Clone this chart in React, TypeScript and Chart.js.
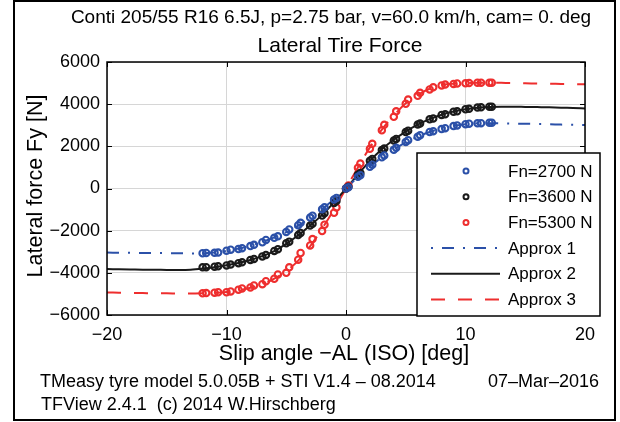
import React, { useEffect, useRef } from "react";
import { Chart, registerables } from "chart.js";
Chart.register(...registerables);

const FONT = '"Liberation Sans", Arial, Helvetica, sans-serif';

const TITLE = "Conti 205/55 R16 6.5J, p=2.75 bar, v=60.0 km/h, cam= 0. deg";
const SUBTITLE = "Lateral Tire Force";
const X_TITLE = "Slip angle \u2212AL (ISO) [deg]";
const Y_TITLE = "Lateral force Fy [N]";
const FOOTER_1 = "TMeasy tyre model 5.0.05B + STI V1.4 \u2013 08.2014";
const FOOTER_DATE = "07\u2013Mar\u20132016";
const FOOTER_2 = "TFView 2.4.1  (c) 2014 W.Hirschberg";

const X_TICKS = [-20, -10, 0, 10, 20];
const Y_TICKS = [-6000, -4000, -2000, 0, 2000, 4000, 6000];

const LEGEND_LABELS = ["Fn=2700 N", "Fn=3600 N", "Fn=5300 N", "Approx 1", "Approx 2", "Approx 3"];

const BLUE = "#2B50A8";
const BLACK = "#1A1A1A";
const RED = "#EE2E2E";

// measured slip angles (two passes)
const MEAS_ANGLE_A = [-12, -11, -10, -9, -8, -7, -6, -5, -4, -3, -2, -1, 0, 1, 2, 3, 4, 5, 6, 7, 8, 9, 10, 11, 12];
const MEAS_ANGLE_B = [-11.7, -10.7, -9.65, -8.7, -7.7, -6.7, -5.7, -4.75, -3.8, -2.8, -1.8, -0.8, 0.2, 1.2, 2.2, 3.2, 4.2, 5.2, 6.2, 7.3, 8.3, 9.3, 10.3, 11.3, 12.2];

const FN2700_A = [-3070, -3050, -2950, -2870, -2730, -2550, -2340, -2060, -1740, -1380, -980, -520, 0, 560, 1030, 1480, 1840, 2210, 2460, 2680, 2820, 2960, 3050, 3090, 3120];
const FN2700_B = [-3060, -3040, -2900, -2830, -2670, -2440, -2270, -1940, -1630, -1290, -890, -450, 60, 630, 1130, 1570, 1930, 2290, 2530, 2720, 2860, 2990, 3070, 3100, 3120];

const FN3600_A = [-3740, -3710, -3650, -3540, -3390, -3220, -2960, -2600, -2210, -1760, -1280, -690, 0, 650, 1320, 1830, 2280, 2680, 3030, 3280, 3490, 3640, 3760, 3840, 3880];
const FN3600_B = [-3730, -3690, -3610, -3500, -3340, -3150, -2880, -2520, -2110, -1670, -1170, -590, 80, 740, 1400, 1900, 2350, 2740, 3080, 3320, 3520, 3660, 3780, 3850, 3880];

const FN5300_A = [-4970, -4940, -4920, -4800, -4690, -4540, -4280, -4000, -3380, -2700, -2020, -1150, 0, 980, 1880, 2760, 3400, 4020, 4400, 4700, 4890, 4960, 4990, 5020, 5020];
const FN5300_B = [-4960, -4920, -4880, -4740, -4600, -4400, -4080, -3740, -3060, -2400, -1720, -900, 140, 1180, 2120, 3020, 3660, 4220, 4540, 4800, 4930, 4980, 5000, 5020, 5020];

// model approximation
const APPROX_ANGLE = [-20, -19, -18, -17, -16, -15, -14, -13, -12, -11, -10, -9, -8, -7, -6, -5, -4, -3, -2, -1, 0, 1, 2, 3, 4, 5, 6, 7, 8, 9, 10, 11, 12, 13, 14, 15, 16, 17, 18, 19, 20];
const APPROX_1 = [-3040, -3045, -3050, -3055, -3060, -3065, -3070, -3080, -3080, -3040, -2960, -2850, -2710, -2530, -2320, -2070, -1760, -1400, -980, -510, 0, 550, 1040, 1470, 1850, 2180, 2460, 2680, 2850, 2970, 3050, 3090, 3100, 3090, 3080, 3070, 3060, 3050, 3030, 3020, 3010];
const APPROX_2 = [-3820, -3830, -3840, -3850, -3850, -3860, -3860, -3850, -3800, -3730, -3640, -3530, -3390, -3210, -2970, -2630, -2220, -1760, -1250, -660, 0, 660, 1310, 1860, 2310, 2700, 3030, 3290, 3500, 3650, 3760, 3830, 3870, 3880, 3880, 3870, 3860, 3850, 3830, 3820, 3800];
const APPROX_3 = [-4930, -4940, -4950, -4960, -4970, -4970, -4980, -4980, -4970, -4950, -4910, -4830, -4710, -4540, -4270, -3920, -3420, -2740, -1900, -990, 0, 1000, 1950, 2790, 3460, 4040, 4440, 4730, 4900, 4970, 5000, 5020, 5020, 5010, 5000, 4990, 4980, 4970, 4960, 4950, 4940];

const measured = (fa: number[], fb: number[]) => {
  const out: { x: number; y: number }[] = [];
  MEAS_ANGLE_A.forEach((a, i) => {
    out.push({ x: a, y: fa[i] });
    out.push({ x: MEAS_ANGLE_B[i], y: fb[i] });
  });
  return out;
};
const approx = (f: number[]) => APPROX_ANGLE.map((a, i) => ({ x: a, y: f[i] }));
const fmt = (v: number) => String(v).replace("-", "\u2212");

const DASH_DOT = [12, 9, 2, 9];
const DASHED = [14, 13];

const decor = {
  id: "decor",
  afterDraw(chart: any) {
    const ctx: CanvasRenderingContext2D = chart.ctx;
    const a = chart.chartArea;
    const xs = chart.scales.x;
    const ys = chart.scales.y;
    ctx.save();
    const seg = (x1: number, y1: number, x2: number, y2: number) => {
      ctx.beginPath();
      ctx.moveTo(x1, y1);
      ctx.lineTo(x2, y2);
      ctx.stroke();
    };
    // inner tick marks
    ctx.strokeStyle = "#000";
    ctx.lineWidth = 1;
    for (const v of X_TICKS) {
      const px = Math.round(xs.getPixelForValue(v)) + 0.5;
      seg(px, a.bottom, px, a.bottom - 5);
      seg(px, a.top, px, a.top + 5);
    }
    for (const v of Y_TICKS) {
      const py = Math.round(ys.getPixelForValue(v)) + 0.5;
      seg(a.left, py, a.left + 5, py);
      seg(a.right, py, a.right - 5, py);
    }
    // axes box
    ctx.lineWidth = 1.5;
    ctx.strokeRect(a.left, a.top, a.right - a.left, a.bottom - a.top);

    // legend
    const lx = 417, ly = 153, lw = 183, lh = 163;
    ctx.fillStyle = "#fff";
    ctx.fillRect(lx, ly, lw, lh);
    ctx.strokeStyle = "#000";
    ctx.lineWidth = 1.5;
    ctx.strokeRect(lx, ly, lw, lh);
    const ds = chart.data.datasets;
    ctx.font = `17px ${FONT}`;
    ctx.textBaseline = "middle";
    ctx.textAlign = "left";
    LEGEND_LABELS.forEach((lab, i) => {
      const y = 171 + i * 25.7;
      const d = ds[i];
      if (i < 3) {
        ctx.strokeStyle = d.pointBorderColor;
        ctx.lineWidth = 2;
        ctx.beginPath();
        ctx.arc(466, y, 2.5, 0, Math.PI * 2);
        ctx.stroke();
      } else {
        ctx.strokeStyle = d.borderColor;
        ctx.lineWidth = 2;
        ctx.setLineDash(i === 3 ? [2, 9, 12, 9] : d.borderDash || []);
        seg(431, y, 500, y);
        ctx.setLineDash([]);
      }
      ctx.fillStyle = "#000";
      ctx.fillText(lab, 508, y + 1);
    });

    // texts
    ctx.fillStyle = "#000";
    ctx.textAlign = "center";
    ctx.textBaseline = "middle";
    ctx.font = `19px ${FONT}`;
    ctx.fillText(TITLE, 331, 18);
    ctx.font = `21px ${FONT}`;
    ctx.fillText(SUBTITLE, 340, 46);
    ctx.font = `21.5px ${FONT}`;
    ctx.fillText(X_TITLE, 344, 354);
    ctx.save();
    ctx.translate(36, 186);
    ctx.rotate(-Math.PI / 2);
    ctx.fillText(Y_TITLE, 0, 0);
    ctx.restore();
    ctx.textAlign = "left";
    ctx.font = `18px ${FONT}`;
    ctx.fillText(FOOTER_1, 40, 382);
    ctx.fillText(FOOTER_DATE, 488, 382);
    ctx.fillText(FOOTER_2, 41, 405);

    // outer frame
    ctx.strokeStyle = "#000";
    ctx.lineWidth = 2;
    ctx.strokeRect(14, 1, 601, 419);
    ctx.restore();
  },
};

export default function App() {
  const ref = useRef<HTMLCanvasElement>(null);
  useEffect(() => {
    const pointDs = (label: string, color: string, data: any[]) => ({
      label,
      data,
      showLine: false,
      pointRadius: 3.2,
      pointBorderWidth: 2.1,
      pointBorderColor: color,
      pointBackgroundColor: "rgba(255,255,255,0)",
      borderColor: color,
      order: 0,
    });
    const lineDs = (label: string, color: string, data: any[], dash: number[]) => ({
      label,
      data,
      showLine: true,
      pointRadius: 0,
      borderWidth: 2,
      borderColor: color,
      borderDash: dash,
      cubicInterpolationMode: "monotone",
      fill: false,
      order: 1,
    });
    const chart = new Chart(ref.current as HTMLCanvasElement, {
      type: "scatter",
      data: {
        datasets: [
          pointDs(LEGEND_LABELS[0], BLUE, measured(FN2700_A, FN2700_B)),
          pointDs(LEGEND_LABELS[1], BLACK, measured(FN3600_A, FN3600_B)),
          pointDs(LEGEND_LABELS[2], RED, measured(FN5300_A, FN5300_B)),
          lineDs(LEGEND_LABELS[3], BLUE, approx(APPROX_1), DASH_DOT),
          lineDs(LEGEND_LABELS[4], BLACK, approx(APPROX_2), []),
          lineDs(LEGEND_LABELS[5], RED, approx(APPROX_3), DASHED),
        ] as any,
      },
      options: {
        responsive: false,
        animation: false,
        devicePixelRatio: 1,
        layout: { padding: { left: 0, right: 35, top: 62, bottom: 0 } },
        plugins: { legend: { display: false }, tooltip: { enabled: false }, title: { display: false } },
        scales: {
          x: {
            type: "linear",
            min: -20,
            max: 20,
            afterBuildTicks: (s: any) => {
              s.ticks = X_TICKS.map((v) => ({ value: v }));
            },
            afterFit: (s: any) => {
              s.height = 107;
            },
            ticks: {
              callback: (v: any) => fmt(v),
              font: { family: FONT, size: 18 },
              color: "#000",
              padding: 9,
              maxRotation: 0,
              autoSkip: false,
            },
            grid: { color: "#d6d6d6", lineWidth: 1, drawTicks: false },
            border: { display: false },
          },
          y: {
            type: "linear",
            min: -6000,
            max: 6000,
            afterBuildTicks: (s: any) => {
              s.ticks = Y_TICKS.map((v) => ({ value: v }));
            },
            afterFit: (s: any) => {
              s.width = 107;
            },
            ticks: {
              callback: (v: any) => fmt(v),
              font: { family: FONT, size: 18 },
              color: "#000",
              padding: 7,
              autoSkip: false,
            },
            grid: { color: "#d6d6d6", lineWidth: 1, drawTicks: false },
            border: { display: false },
          },
        },
      } as any,
      plugins: [decor],
    });
    return () => chart.destroy();
  }, []);
  return (
    <div style={{ position: "absolute", left: 0, top: 0, width: 620, height: 422, background: "#fff" }}>
      <canvas ref={ref} width={620} height={422} style={{ display: "block", width: 620, height: 422 }} />
    </div>
  );
}
